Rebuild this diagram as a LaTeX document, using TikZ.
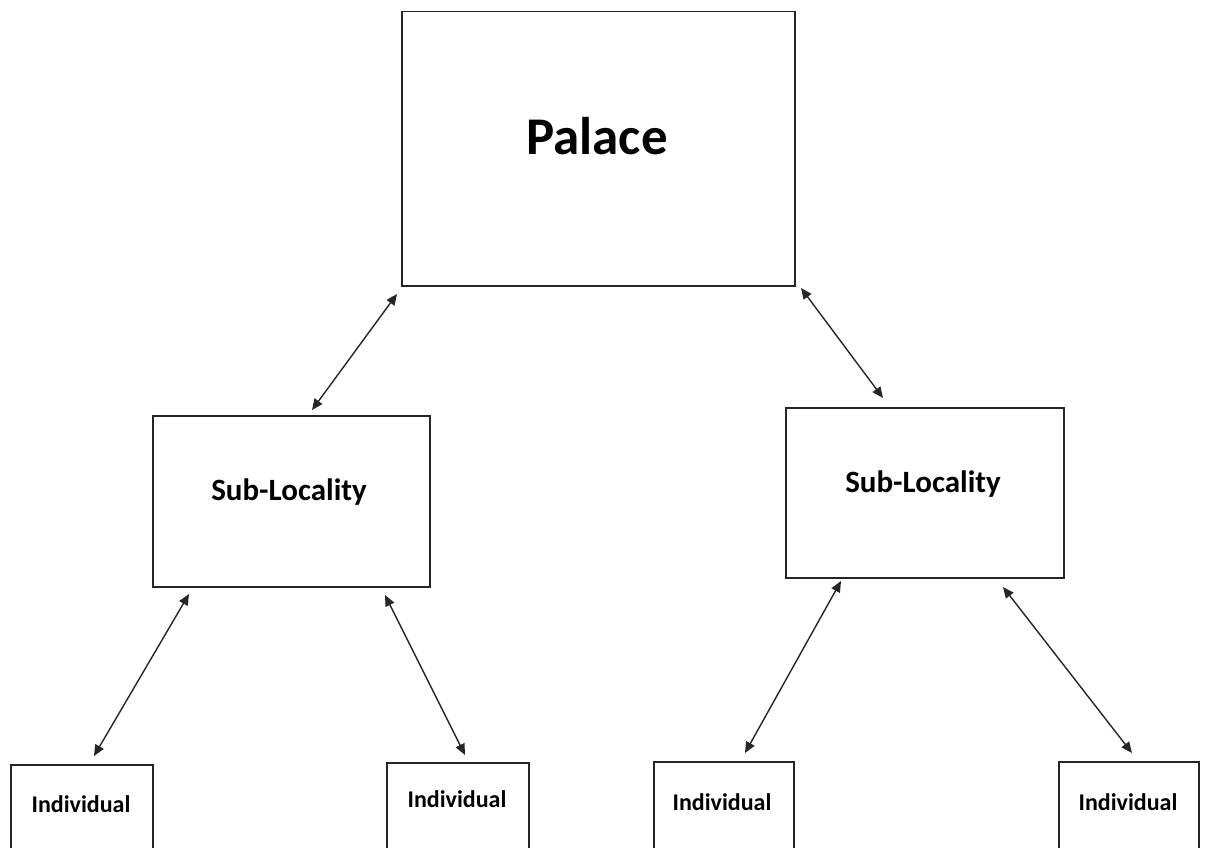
\documentclass[tikz,border=0pt]{standalone}
\usepackage{fontspec}
\setmainfont{Carlito}
\usetikzlibrary{arrows.meta}
\definecolor{linegray}{HTML}{262626}
\tikzset{
  box/.style={draw=linegray, line width=1.5pt, inner sep=0pt, anchor=north west},
  boxtext/.style={anchor=base, inner sep=0pt, font=\bfseries},
  link/.style={color=linegray, line width=1.4pt, {Triangle[length=11pt,width=9.5pt]}-{Triangle[length=11pt,width=9.5pt]}}
}

\begin{document}
\begin{tikzpicture}[x=1pt,y=-1pt]
		\useasboundingbox (0,0) rectangle (1207,848);
		\clip (0,0) rectangle (1207,848);
		% boxes
		\node[box, minimum width=393pt, minimum height=274pt] (palace) at (401,11) {};
		\node[box, minimum width=277pt, minimum height=171pt] (subL) at (152,415) {};
		\node[box, minimum width=278pt, minimum height=170pt] (subR) at (785,407) {};
		\node[box, minimum width=142pt, minimum height=120pt] (indA) at (10,764) {};
		\node[box, minimum width=142pt, minimum height=120pt] (indB) at (386,762) {};
		\node[box, minimum width=140pt, minimum height=120pt] (indC) at (653,761) {};
		\node[box, minimum width=140pt, minimum height=120pt] (indD) at (1058,761) {};
		% texts
		\node[boxtext, font=\fontsize{53}{58}\selectfont\bfseries] (palacetext) at (597,154) {Palace};
		\node[boxtext, font=\fontsize{31}{36}\selectfont\bfseries] (subLtext) at (289,500) {Sub-Locality};
		\node[boxtext, font=\fontsize{31}{36}\selectfont\bfseries] (subRtext) at (923,492) {Sub-Locality};
		\node[boxtext, font=\fontsize{24}{28}\selectfont\bfseries] (indAtext) at (81,812) {Individual};
		\node[boxtext, font=\fontsize{24}{28}\selectfont\bfseries] (indBtext) at (457,807) {Individual};
		\node[boxtext, font=\fontsize{24}{28}\selectfont\bfseries] (indCtext) at (722,810) {Individual};
		\node[boxtext, font=\fontsize{24}{28}\selectfont\bfseries] (indDtext) at (1128,810) {Individual};
		% arrow ends
		\coordinate (P1) at (397,294);
		\coordinate (S1) at (312,410);
		\coordinate (P2) at (801,288);
		\coordinate (S2) at (883,398);
		\coordinate (L1) at (189,594);
		\coordinate (A1) at (94,756);
		\coordinate (L2) at (385,595);
		\coordinate (B1) at (465,755);
		\coordinate (R1) at (841,581);
		\coordinate (C1) at (745,753);
		\coordinate (R2) at (1003,587);
		\coordinate (D1) at (1132,753);
		\draw[link] (P1) -- (S1);
		\draw[link] (P2) -- (S2);
		\draw[link] (L1) -- (A1);
		\draw[link] (L2) -- (B1);
		\draw[link] (R1) -- (C1);
		\draw[link] (R2) -- (D1);
	\end{tikzpicture}
\end{document}
